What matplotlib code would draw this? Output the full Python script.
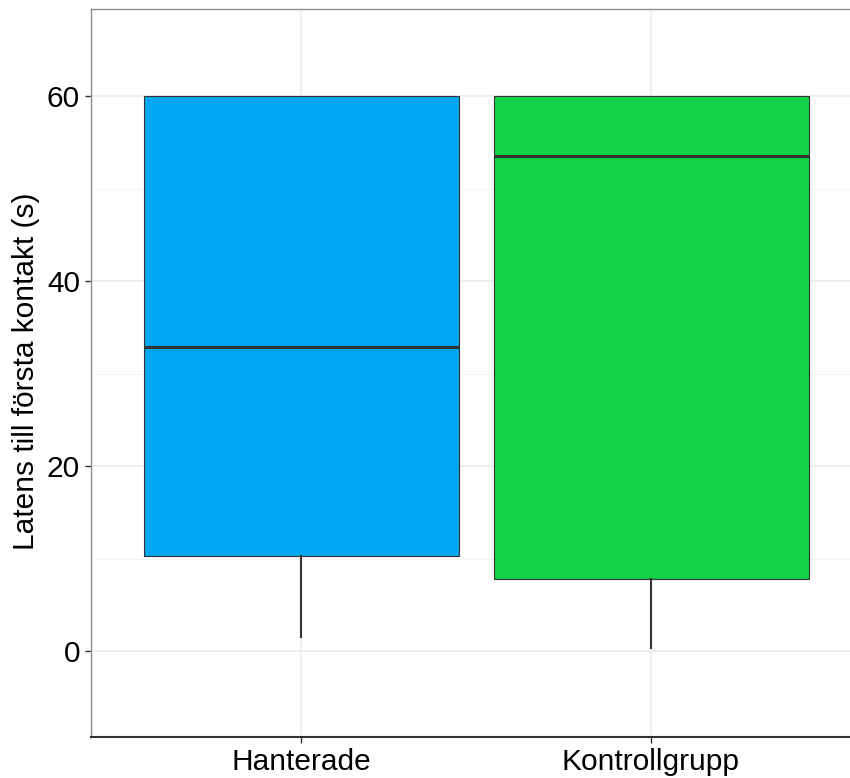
import matplotlib
matplotlib.use("Agg")
import matplotlib.pyplot as plt
from matplotlib.ticker import MultipleLocator

plt.rcParams['font.family'] = ['Liberation Sans', 'DejaVu Sans']

# Latency summary per group (seconds)
groups = ["Hanterade", "Kontrollgrupp"]
medians = [32.9, 53.5]
q1s = [10.35, 7.85]
q3s = [60.0, 60.0]
whisker_lows = [1.5, 0.35]
whisker_highs = [60.0, 60.0]
fill_colors = ["#00A6F0", "#12D247"]
y_ticks = [0, 20, 40, 60]

W, H = 850, 778
fig = plt.figure(figsize=(W / 100, H / 100), dpi=100)
left, right, top, bottom = 91, 861, 9, 736.5
ax = fig.add_axes([left / W, 1 - bottom / H, (right - left) / W, (bottom - top) / H])

stats = []
for g, med, q1, q3, lo, hi in zip(groups, medians, q1s, q3s, whisker_lows, whisker_highs):
    stats.append(dict(label=g, med=med, q1=q1, q3=q3, whislo=lo, whishi=hi, fliers=[]))

positions = list(range(1, len(groups) + 1))
bp = ax.bxp(stats, positions=positions, widths=0.9, patch_artist=True, showcaps=False,
            boxprops=dict(edgecolor="#333333", linewidth=0.8),
            medianprops=dict(color="#333333", linewidth=2.2, solid_capstyle="butt"),
            whiskerprops=dict(color="#333333", linewidth=1.5),
            zorder=3)
for patch, c in zip(bp["boxes"], fill_colors):
    patch.set_facecolor(c)

ax.set_xlim(0.4, 2.6)
ax.set_ylim(-9.2, 69.4)
ax.set_xticks(positions)
ax.set_xticklabels(groups)
ax.set_yticks(y_ticks)
ax.yaxis.set_minor_locator(MultipleLocator(10))

ax.grid(True, which="major", color="#EBEBEB", linewidth=1.1, zorder=0)
ax.grid(True, which="minor", axis="y", color="#F2F2F2", linewidth=0.6, zorder=0)
ax.set_axisbelow(True)

ax.tick_params(axis="both", which="major", labelsize=21.5, colors="#333333",
               labelcolor="black", length=4.5, width=1.0, pad=3.5)
ax.tick_params(axis="y", which="minor", length=0)

for s in ["top", "left"]:
    ax.spines[s].set_color("#8C8C8C")
    ax.spines[s].set_linewidth(1.0)
ax.spines["bottom"].set_color("#333333")
ax.spines["bottom"].set_linewidth(1.5)
ax.spines["right"].set_visible(False)

fig.text(26 / W, 1 - 371.5 / H, "Latens till första kontakt (s)", rotation=90,
         ha="center", va="center", fontsize=21.5, color="black")

fig.savefig("out.png", dpi=100)
